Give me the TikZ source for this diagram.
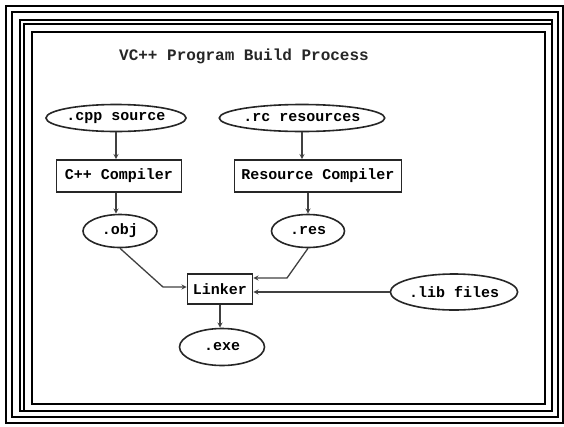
\documentclass[tikz,border=0pt]{standalone}
\usepackage{fontspec}
\setmonofont{Liberation Mono}
\usetikzlibrary{shapes.geometric}
\begin{document}
\begin{tikzpicture}[x=1pt,y=-1pt,
    frame/.style={line width=2pt},
    file/.style={draw=black!85, line width=1.6pt, ellipse, inner sep=0pt,
                 font=\ttfamily\bfseries\fontsize{15}{18}\selectfont},
    tool/.style={draw=black!85, line width=1.6pt, rectangle, inner sep=0pt,
                 font=\ttfamily\bfseries\fontsize{15}{18}\selectfont},
    conn/.style={draw=black!75, line width=1.3pt, ->, >=stealth}]
    \useasboundingbox (0,0) rectangle (564,426);

    % Rahmen (fuenf Linien)
    \draw[frame] (5.5,5.5) rectangle (563,423);
    \draw[frame] (12,12) rectangle (558,417);
    \draw[frame] (19.5,19.5) rectangle (552,411);
    \draw[frame] (23.5,23.5) rectangle (552,411);
    \draw[frame] (32,32) rectangle (545,404);

    % Titel
    \node[font=\ttfamily\bfseries\fontsize{16}{19}\selectfont, text=black!85] (title) at (244,56) {VC++ Program Build Process};

    % Quelldateien
    \node[file, minimum width=128, minimum height=27] (cpp) at (116,118) {.cpp source};
    \node[file, minimum width=140, minimum height=27] (rc) at (302,118) {.rc resources};

    % Compiler
    \node[tool, minimum width=125, minimum height=32] (cppcomp) at (119,176) {C++ Compiler};
    \node[tool, minimum width=167, minimum height=32] (rescomp) at (318,176) {Resource Compiler};

    % Zwischendateien
    \node[file, minimum width=74, minimum height=33] (obj) at (120,231) {.obj};
    \node[file, minimum width=73, minimum height=33] (res) at (308,231) {.res};

    % Linker und Bibliotheken
    \node[tool, minimum width=65, minimum height=30] (linker) at (220,289) {Linker};
    \node[file, minimum width=124, minimum height=36] (lib) at (454,292) {.lib files};
    \node[file, minimum width=85, minimum height=37] (exe) at (222,347) {.exe};

    % Knickpunkte
    \coordinate (objbend) at (163,287);
    \coordinate (resbend) at (287,278);

    % Verbindungen
    \draw[conn] (cpp) -- (cpp |- cppcomp.north);
    \draw[conn] (cpp |- cppcomp.south) -- (cpp |- obj.north);
    \draw[conn] (rc) -- (rc |- rescomp.north);
    \draw[conn] (res |- rescomp.south) -- (res);
    \draw[conn] (obj.south) -- (objbend) -- (objbend -| linker.west);
    \draw[conn] (res.south) -- (resbend) -- (resbend -| linker.east);
    \draw[conn] (lib.west) -- (lib.west -| linker.east);
    \draw[conn] (linker) -- (linker |- exe.north);
\end{tikzpicture}
\end{document}
